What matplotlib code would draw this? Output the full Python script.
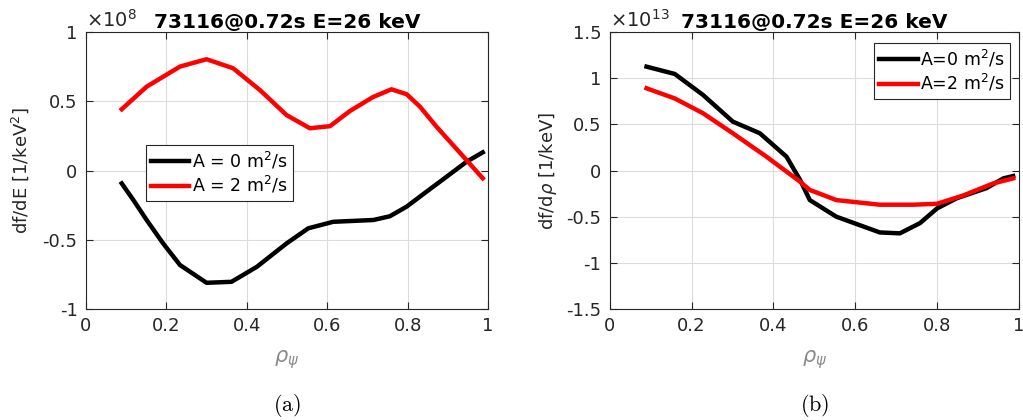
import matplotlib
matplotlib.use('Agg')
import matplotlib.pyplot as plt
from matplotlib.ticker import FuncFormatter

plt.rcParams['font.family'] = 'DejaVu Sans'
plt.rcParams['axes.unicode_minus'] = False
plt.rcParams['mathtext.fontset'] = 'dejavusans'

# panel (a): df/dE, units of 1e8
rho_a_A0 = [0.089, 0.118, 0.151, 0.192, 0.234, 0.30, 0.362, 0.425, 0.499, 0.553,
            0.615, 0.715, 0.756, 0.798, 0.847, 0.897, 0.947, 0.987]
dfdE_A0 = [-0.093, -0.213, -0.357, -0.526, -0.682, -0.81, -0.803, -0.695, -0.526, -0.417,
           -0.37, -0.357, -0.33, -0.26, -0.153, -0.045, 0.064, 0.131]
rho_a_A2 = [0.089, 0.151, 0.234, 0.30, 0.366, 0.433, 0.499, 0.557, 0.607, 0.657,
            0.714, 0.760, 0.798, 0.831, 0.872, 0.939, 0.987]
dfdE_A2 = [0.442, 0.605, 0.75, 0.803, 0.738, 0.58, 0.40, 0.305, 0.32, 0.43,
           0.53, 0.586, 0.55, 0.46, 0.316, 0.10, -0.056]

# panel (b): df/drho, units of 1e13
rho_b_A0 = [0.090, 0.159, 0.228, 0.301, 0.367, 0.432, 0.465, 0.489, 0.554, 0.66,
            0.709, 0.758, 0.80, 0.848, 0.921, 0.962, 0.986]
dfdr_A0 = [1.124, 1.045, 0.818, 0.529, 0.403, 0.15, -0.10, -0.32, -0.50, -0.67,
           -0.68, -0.57, -0.41, -0.30, -0.19, -0.085, -0.06]
rho_b_A2 = [0.090, 0.159, 0.228, 0.301, 0.383, 0.465, 0.489, 0.554, 0.66, 0.742,
            0.80, 0.864, 0.937, 0.986]
dfdr_A2 = [0.89, 0.78, 0.62, 0.403, 0.15, -0.12, -0.21, -0.32, -0.37, -0.37,
           -0.36, -0.27, -0.14, -0.085]

title = '73116@0.72s E=26 keV'
xticks = [0, 0.2, 0.4, 0.6, 0.8, 1]

fig = plt.figure(figsize=(10.23, 4.2), dpi=100)
ax1 = fig.add_axes([0.084, 0.264, 0.393, 0.66])
ax2 = fig.add_axes([0.596, 0.264, 0.40, 0.66])

fmt = FuncFormatter(lambda v, p: '%g' % round(v, 3))
dark = '#262626'


def style(ax, yticks, ylim, ylabel, expo, caption, ypad):
    ax.set_xlim(0, 1)
    ax.set_ylim(*ylim)
    ax.set_xticks(xticks)
    ax.set_yticks(yticks)
    ax.xaxis.set_major_formatter(fmt)
    ax.yaxis.set_major_formatter(fmt)
    ax.grid(True, color='#dcdcdc', lw=0.8)
    ax.set_axisbelow(True)
    ax.tick_params(direction='in', top=True, right=True, labelsize=13,
                   colors=dark, length=5, pad=6)
    for s in ax.spines.values():
        s.set_color(dark)
        s.set_linewidth(0.8)
    ax.set_ylabel(ylabel, fontsize=13, color=dark, labelpad=ypad)
    ax.set_xlabel(r'$\rho_\psi$', fontsize=15, color='#8a8a8a', labelpad=9)
    ax.set_title(title, fontsize=14.5, fontweight='bold', pad=3)
    ax.text(0, 1.003, r'$\times10^{%d}$' % expo, transform=ax.transAxes,
            fontsize=14, color=dark, ha='left', va='bottom')
    ax.text(0.5, -0.347, r'$\mathrm{%s}$' % caption, transform=ax.transAxes,
            fontsize=16, ha='center', va='center', math_fontfamily='cm')


ax1.plot(rho_a_A0, dfdE_A0, color='black', lw=3.2, label=r'A = 0 m$^2$/s')
ax1.plot(rho_a_A2, dfdE_A2, color='#ff0000', lw=3.2, label=r'A = 2 m$^2$/s')
style(ax1, [-1, -0.5, 0, 0.5, 1], (-1, 1), r'df/dE [1/keV$^2$]', 8, '(a)', 8)
leg = ax1.legend(loc='upper left', bbox_to_anchor=(0.149, 0.592), borderaxespad=0,
                 fontsize=12.5, handlelength=2.2, handletextpad=0.15,
                 fancybox=False, framealpha=1, edgecolor=dark, borderpad=0.3,
                 labelspacing=0.2)
leg.get_frame().set_linewidth(0.8)

ax2.plot(rho_b_A0, dfdr_A0, color='black', lw=3.2, label=r'A=0 m$^2$/s')
ax2.plot(rho_b_A2, dfdr_A2, color='#ff0000', lw=3.2, label=r'A=2 m$^2$/s')
style(ax2, [-1.5, -1, -0.5, 0, 0.5, 1, 1.5], (-1.5, 1.5), r'df/d$\rho$ [1/keV]', 13, '(b)', 5)
leg = ax2.legend(loc='upper right', bbox_to_anchor=(0.978, 0.961), borderaxespad=0,
                 fontsize=12.5, handlelength=2.2, handletextpad=0.15,
                 fancybox=False, framealpha=1, edgecolor=dark, borderpad=0.3,
                 labelspacing=0.2)
leg.get_frame().set_linewidth(0.8)

fig.savefig('out.png', dpi=100)
